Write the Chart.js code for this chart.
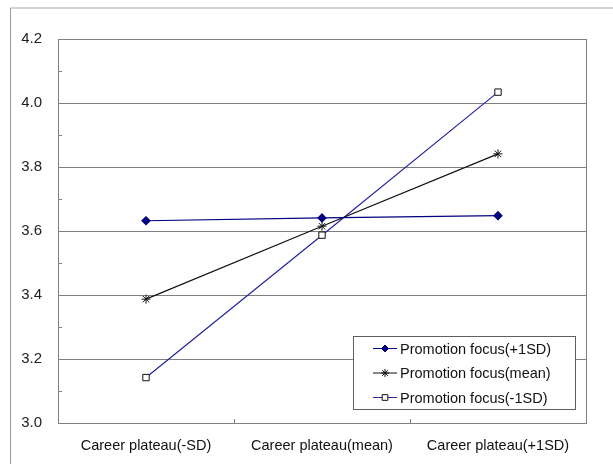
<!DOCTYPE html>
<html>
<head>
<meta charset="utf-8">
<script src="https://cdn.jsdelivr.net/npm/chart.js@4/dist/chart.umd.min.js"></script>
<style>
  html, body { margin: 0; padding: 0; background: #fff; }
  #wrap { width: 613px; height: 464px; }
</style>
</head>
<body>
<div id="wrap"><canvas id="chartPlateau"></canvas></div>
<script>
// datos
const categorias = ["Career plateau(-SD)", "Career plateau(mean)", "Career plateau(+1SD)"];
const series = ["Promotion focus(+1SD)", "Promotion focus(mean)", "Promotion focus(-1SD)"];
const focoAlto = [3.632, 3.641, 3.648];
const focoMedio = [3.387, 3.615, 3.841];
const focoBajo = [3.142, 3.587, 4.034];
const ejeY = { min: 3.0, max: 4.2, paso: 0.2 };

const FONT = "'Liberation Sans', Arial, sans-serif";
const GRIS = "#808080";

// marco, ticks interiores y leyenda
const decoracion = {
  id: "decoracion",
  afterDraw(chart) {
    const { ctx, chartArea: a, scales } = chart;
    ctx.save();
    // marco exterior (arriba e izquierda)
    ctx.strokeStyle = "#d4d4d4";
    ctx.lineWidth = 2;
    ctx.beginPath();
    ctx.moveTo(10, 8); ctx.lineTo(613, 8);
    ctx.stroke();
    ctx.strokeStyle = "#9a9a9a";
    ctx.lineWidth = 1;
    ctx.beginPath();
    ctx.moveTo(10.5, 8); ctx.lineTo(10.5, 464);
    ctx.stroke();

    // borde del area
    ctx.strokeStyle = GRIS;
    ctx.strokeRect(a.left + 0.5, a.top + 0.5, a.right - a.left, a.bottom - a.top);

    // ticks menores en Y
    ctx.beginPath();
    for (let v = ejeY.min + ejeY.paso / 2; v < ejeY.max; v += ejeY.paso) {
      const y = Math.round(scales.y.getPixelForValue(v)) + 0.5;
      ctx.moveTo(a.left, y); ctx.lineTo(a.left + 4, y);
    }
    // ticks en X (entre categorias)
    const xs = scales.x;
    for (let i = 1; i < categorias.length; i++) {
      const x = Math.round((xs.getPixelForValue(i - 1) + xs.getPixelForValue(i)) / 2) + 0.5;
      ctx.moveTo(x, a.bottom); ctx.lineTo(x, a.bottom - 4);
    }
    ctx.stroke();

    // leyenda
    const bx = 353, by = 336, bw = 222, bh = 73;
    ctx.fillStyle = "#fff";
    ctx.fillRect(bx, by, bw, bh);
    ctx.strokeStyle = "#606060";
    ctx.strokeRect(bx + 0.5, by + 0.5, bw, bh);
    ctx.font = "14.5px " + FONT;
    ctx.textBaseline = "middle";
    chart.data.datasets.forEach((ds, i) => {
      const y = 348.5 + i * 24.5;
      ctx.strokeStyle = ds.borderColor;
      ctx.lineWidth = 1;
      ctx.beginPath();
      ctx.moveTo(373, y); ctx.lineTo(397, y);
      ctx.stroke();
      ctx.fillStyle = ds.pointBackgroundColor;
      ctx.strokeStyle = ds.pointBorderColor;
      Chart.helpers.drawPoint(ctx, {
        pointStyle: ds.pointStyle,
        radius: ds.pointRadius - 0.5,
        borderWidth: 1,
        rotation: 0,
      }, 385, y);
      ctx.fillStyle = "#111";
      ctx.fillText(ds.label, 400, y + 1);
    });
    ctx.restore();
  },
};

const el = document.getElementById("chartPlateau");
new Chart(el, {
  type: "line",
  data: {
    labels: categorias,
    datasets: [
      {
        label: series[0], data: focoAlto,
        borderColor: "#000080", borderWidth: 1.2,
        pointStyle: "rectRot", pointRadius: 4,
        pointBackgroundColor: "#000080", pointBorderColor: "#000080",
      },
      {
        label: series[1], data: focoMedio,
        borderColor: "#111111", borderWidth: 1.2,
        pointStyle: "star", pointRadius: 4.5, pointBorderWidth: 1,
        pointBackgroundColor: "#111111", pointBorderColor: "#111111",
      },
      {
        label: series[2], data: focoBajo,
        borderColor: "#2424a0", borderWidth: 1.2,
        pointStyle: "rect", pointRadius: 4.5, pointBorderWidth: 1,
        pointBackgroundColor: "#ffffff", pointBorderColor: "#111111",
      },
    ],
  },
  options: {
    responsive: true,
    maintainAspectRatio: false,
    animation: false,
    layout: { padding: { left: 10, right: 27, top: 39, bottom: 0 } },
    plugins: { legend: { display: false }, tooltip: { enabled: false } },
    elements: { line: { tension: 0 } },
    scales: {
      x: {
        offset: true,
        grid: { display: false },
        border: { display: false },
        ticks: { color: "#111", font: { family: FONT, size: 14.5 }, padding: 6, maxRotation: 0 },
        afterFit(s) { s.height = 41; },
      },
      y: {
        min: ejeY.min, max: ejeY.max,
        grid: { color: GRIS, drawTicks: false },
        border: { display: false },
        ticks: {
          stepSize: ejeY.paso, color: "#222", padding: 16,
          font: { family: FONT, size: 15 },
          callback: (v) => v.toFixed(1),
        },
        afterFit(s) { s.width = 48; },
      },
    },
  },
  plugins: [decoracion],
});
</script>
</body>
</html>
